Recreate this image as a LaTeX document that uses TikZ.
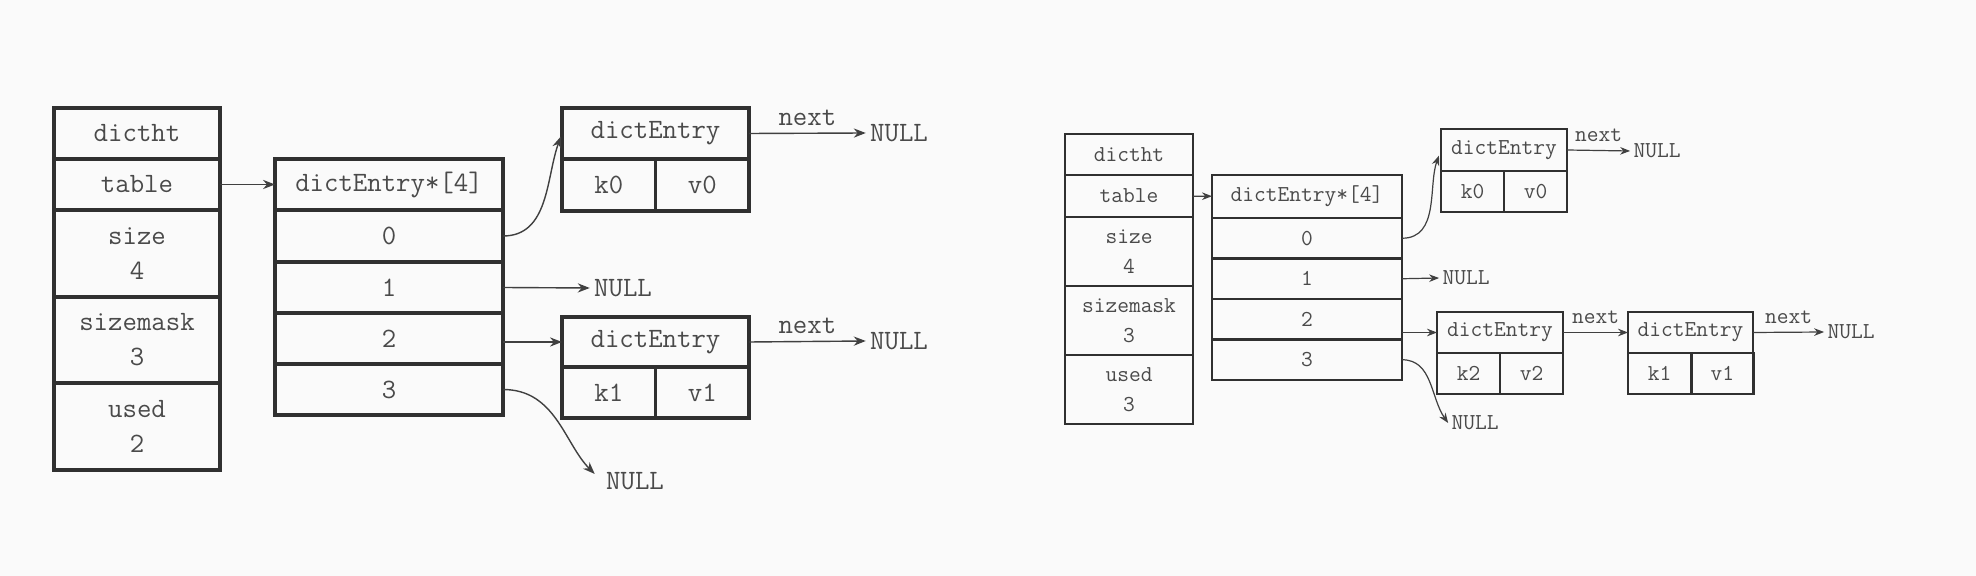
\documentclass[tikz,border=0pt]{standalone}
\usetikzlibrary{arrows.meta}
\definecolor{bgc}{HTML}{FAFAFA}
\definecolor{linec}{HTML}{303030}
\definecolor{textc}{HTML}{4A4A4A}
\definecolor{arrc}{HTML}{404040}
\tikzset{
  cellL/.style={draw=linec, line width=1.65pt, inner sep=0pt, outer sep=0pt, text=textc,
    font=\fontsize{14}{17.5}\selectfont\ttfamily, align=center},
  cellR/.style={draw=linec, line width=1.35pt, inner sep=0pt, outer sep=0pt, text=textc,
    font=\fontsize{11.4}{15}\selectfont\ttfamily, align=center},
  txtL/.style={inner sep=2pt, text=textc, font=\fontsize{14}{17}\selectfont\ttfamily},
  txtR/.style={inner sep=1.5pt, text=textc, font=\fontsize{11.4}{14}\selectfont\ttfamily},
  arrL/.style={draw=arrc, line width=0.7pt, -{Stealth[length=6pt,width=4.6pt]}},
  arrR/.style={draw=arrc, line width=0.6pt, -{Stealth[length=5pt,width=3.8pt]}},
  labL/.style={midway, above=3.6pt, inner sep=0pt, text=textc, font=\fontsize{14}{17}\selectfont\ttfamily},
  labR/.style={midway, above=4.2pt, inner sep=0pt, text=textc, font=\fontsize{11.4}{14}\selectfont\ttfamily},
}
\begin{document}
\begin{tikzpicture}[x=0.5pt,y=-0.5pt]
\fill[bgc] (0,0) rectangle (1976,576);
\useasboundingbox (0,0) rectangle (1976,576);

% ---------------- left diagram ----------------
\node[cellL, minimum width=83pt, minimum height=25.5pt] (Lht) at (137,133.5) {dictht};
\node[cellL, minimum width=83pt, minimum height=25.5pt] (Ltable) at (137,184.5) {table};
\node[cellL, minimum width=83pt, minimum height=43.5pt] (Lsize) at (137,253.5) {size\\4};
\node[cellL, minimum width=83pt, minimum height=43pt] (Lmask) at (137,340) {sizemask\\3};
\node[cellL, minimum width=83pt, minimum height=43.5pt] (Lused) at (137,426.5) {used\\2};

\node[cellL, minimum width=114pt, minimum height=25.5pt] (Lhead) at (389,184.5) {dictEntry*[4]};
\node[cellL, minimum width=114pt, minimum height=26pt] (L0) at (389,236) {0};
\node[cellL, minimum width=114pt, minimum height=25.5pt] (L1) at (389,287.5) {1};
\node[cellL, minimum width=114pt, minimum height=25.5pt] (L2) at (389,338.5) {2};
\node[cellL, minimum width=114pt, minimum height=25.5pt] (L3) at (389,389.5) {3};

\node[cellL, minimum width=93.5pt, minimum height=25.5pt] (LAh) at (655.5,133.5) {dictEntry};
\node[cellL, minimum width=46.75pt, minimum height=26pt] (LAk) at (608.75,185) {k0};
\node[cellL, minimum width=46.75pt, minimum height=26pt] (LAv) at (702.25,185) {v0};

\node[cellL, minimum width=93.5pt, minimum height=25pt] (LBh) at (655.5,342) {dictEntry};
\node[cellL, minimum width=46.75pt, minimum height=25.5pt] (LBk) at (608.75,392.5) {k1};
\node[cellL, minimum width=46.75pt, minimum height=25.5pt] (LBv) at (702.25,392.5) {v1};

\node[txtL] (LnA) at (899,133) {NULL};
\node[txtL] (Ln1) at (623,288) {NULL};
\node[txtL] (LnB) at (899,341) {NULL};
\node[txtL] (Ln3) at (635,481) {NULL};

\draw[arrL] (Ltable) -- (Lhead);
\draw[arrL, shorten >=1.5pt] (L0.east) to[out=0,in=250] (LAh.west);
\draw[arrL] (L1.east) -- (Ln1.west);
\draw[arrL] (L2.east |- LBh.west) -- (LBh.west);
\draw[arrL, shorten >=5pt] (L3.east) to[out=0,in=135] (Ln3.west);
\draw[arrL] (LAh.east) -- node[labL]{next} (LnA.west);
\draw[arrL] (LBh.east) -- node[labL]{next} (LnB.west);

% ---------------- right diagram ----------------
\node[cellR, minimum width=64pt, minimum height=20.5pt] (Rht) at (1129,154.5) {dictht};
\node[cellR, minimum width=64pt, minimum height=21pt] (Rtable) at (1129,196) {table};
\node[cellR, minimum width=64pt, minimum height=34.5pt] (Rsize) at (1129,251.5) {size\\4};
\node[cellR, minimum width=64pt, minimum height=34.5pt] (Rmask) at (1129,320.5) {sizemask\\3};
\node[cellR, minimum width=64pt, minimum height=34.5pt] (Rused) at (1129,389.5) {used\\3};

\node[cellR, minimum width=95pt, minimum height=21.5pt] (Rhead) at (1307,196.5) {dictEntry*[4]};
\node[cellR, minimum width=95pt, minimum height=20.25pt] (R0) at (1307,238.25) {0};
\node[cellR, minimum width=95pt, minimum height=20.25pt] (R1) at (1307,278.75) {1};
\node[cellR, minimum width=95pt, minimum height=20.25pt] (R2) at (1307,319.25) {2};
\node[cellR, minimum width=95pt, minimum height=20.25pt] (R3) at (1307,359.75) {3};

\node[cellR, minimum width=63pt, minimum height=21pt] (RCh) at (1504,150) {dictEntry};
\node[cellR, minimum width=31.5pt, minimum height=20.5pt] (RCk) at (1472.5,191.5) {k0};
\node[cellR, minimum width=31.5pt, minimum height=20.5pt] (RCv) at (1535.5,191.5) {v0};

\node[cellR, minimum width=63pt, minimum height=20.5pt] (RDh) at (1500,332.5) {dictEntry};
\node[cellR, minimum width=31.5pt, minimum height=20.5pt] (RDk) at (1468.5,373.5) {k2};
\node[cellR, minimum width=31.5pt, minimum height=20.5pt] (RDv) at (1531.5,373.5) {v2};

\node[cellR, minimum width=62.5pt, minimum height=20.5pt] (REh) at (1690.5,332.5) {dictEntry};
\node[cellR, minimum width=31.5pt, minimum height=20.5pt] (REk) at (1659.5,373.5) {k1};
\node[cellR, minimum width=31pt, minimum height=20.5pt] (REv) at (1722.25,373.5) {v1};

\node[txtR] (RnC) at (1657,151) {NULL};
\node[txtR] (Rn1) at (1466,278) {NULL};
\node[txtR] (RnE) at (1851,332) {NULL};
\node[txtR] (Rn3) at (1475,423) {NULL};

\draw[arrR] (Rtable) -- (Rhead);
\draw[arrR, shorten >=3pt] (R0.east) to[out=0,in=250] (RCh.west);
\draw[arrR] (R1.east) -- (Rn1.west);
\draw[arrR] (R2.east |- RDh.west) -- (RDh.west);
\draw[arrR] (R3.east) to[out=0,in=125] (Rn3.west);
\draw[arrR] (RCh.east) -- node[labR]{next} (RnC.west);
\draw[arrR] (RDh.east) -- node[labR]{next} (REh.west);
\draw[arrR] (REh.east) -- node[labR]{next} (RnE.west);
\end{tikzpicture}
\end{document}
